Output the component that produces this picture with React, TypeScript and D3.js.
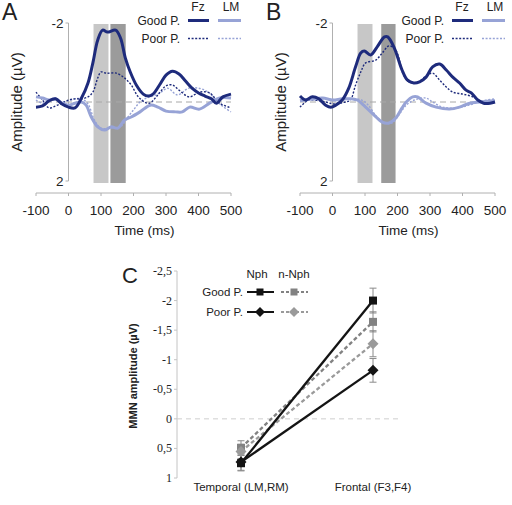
import React from "react";
import * as d3 from "d3";

// ---------- Panel A / B data: [time ms, amplitude µV] ----------
const aGoodFz: [number, number][] = [[-100,0.13],[-80,0.10],[-60,-0.03],[-40,-0.08],[-20,0.05],[0,0.13],[20,0.15],[40,-0.10],[60,-0.48],[75,-0.99],[90,-1.57],[105,-1.82],[120,-1.77],[145,-1.82],[160,-1.62],[175,-1.11],[190,-0.76],[210,-0.41],[230,-0.20],[245,-0.15],[260,-0.20],[280,-0.43],[300,-0.68],[320,-0.78],[340,-0.71],[360,-0.53],[380,-0.35],[400,-0.23],[420,-0.15],[440,-0.08],[455,0.03],[475,-0.13],[500,-0.20]];
const aPoorFz: [number, number][] = [[-100,-0.25],[-80,-0.05],[-60,0.15],[-40,0.10],[-20,0.03],[0,-0.05],[20,-0.08],[40,-0.08],[60,-0.13],[75,-0.25],[90,-0.61],[100,-0.76],[116,-0.73],[147,-0.73],[172,-0.61],[193,-0.43],[213,-0.15],[234,0],[250,0.03],[275,-0.18],[300,-0.41],[320,-0.43],[340,-0.30],[372,-0.13],[403,-0.25],[434,-0.23],[465,0.03],[500,0.15]];
const aGoodLM: [number, number][] = [[-100,-0.13],[-80,-0.10],[-60,-0.05],[-40,-0.08],[-20,0.03],[0,0.08],[20,0.03],[40,0],[54,0.08],[70,0.38],[90,0.63],[111,0.71],[131,0.63],[152,0.66],[172,0.46],[193,0.38],[220,0.25],[252,0.08],[275,0.13],[300,0.23],[330,0.25],[350,0.25],[373,0.13],[403,0.18],[434,0.03],[465,-0.10],[500,-0.10]];
const aPoorLM: [number, number][] = [[-100,-0.05],[-80,0.03],[-60,-0.03],[-40,-0.05],[-20,0],[0,-0.03],[20,-0.08],[40,-0.08],[60,0.05],[80,0.46],[100,0.66],[130,0.66],[160,0.63],[180,0.41],[200,0.20],[220,0],[240,-0.10],[260,-0.15],[285,-0.25],[305,-0.35],[335,-0.18],[370,-0.35],[400,-0.35],[430,-0.25],[465,0.05],[500,0.25]];

const bGoodFz: [number, number][] = [[-100,-0.15],[-83,-0.05],[-62,-0.13],[-42,-0.08],[-21,0.08],[-5,0.13],[10,0.08],[30,-0.05],[50,-0.35],[71,-0.89],[87,-1.24],[98,-1.29],[117,-1.19],[137,-1.39],[160,-1.65],[170,-1.65],[190,-1.37],[214,-0.81],[230,-0.56],[250,-0.48],[268,-0.51],[288,-0.63],[308,-0.89],[330,-0.96],[350,-0.81],[370,-0.63],[391,-0.48],[411,-0.30],[427,-0.23],[447,-0.05],[465,0.03],[485,0.03],[500,0]];
const bPoorFz: [number, number][] = [[-100,0.13],[-73,-0.05],[-40,-0.03],[-20,0],[0,0.05],[20,0.03],[40,0],[55,-0.05],[71,-0.43],[87,-0.76],[102,-0.99],[133,-1.06],[153,-1.24],[174,-1.42],[194,-1.32],[219,-0.68],[235,-0.51],[250,-0.48],[268,-0.53],[288,-0.66],[308,-0.73],[329,-0.56],[350,-0.38],[370,-0.25],[401,-0.20],[432,-0.13],[462,0],[500,-0.05]];
const bGoodLM: [number, number][] = [[-100,-0.03],[-60,-0.08],[-30,-0.10],[0,-0.05],[30,-0.08],[60,-0.08],[76,-0.05],[102,0.13],[128,0.33],[153,0.51],[174,0.53],[194,0.41],[214,0.15],[227,0],[247,-0.13],[262,-0.13],[288,0.03],[319,0.13],[360,0.18],[391,0.13],[422,0.03],[452,0],[500,-0.03]];
const bPoorLM: [number, number][] = [[-100,-0.05],[-60,-0.05],[-20,-0.08],[20,-0.05],[60,-0.08],[90,-0.05],[110,0.08],[137,0.38],[164,0.53],[184,0.53],[204,0.33],[227,0.08],[252,-0.05],[288,-0.10],[308,0],[339,0.13],[380,0.15],[420,0.08],[462,-0.03],[500,-0.08]];

const aWindows: [number, number][] = [[77, 123], [129, 176]];
const bWindows: [number, number][] = [[77, 123], [150, 194]];
const timeTicks = [-100, 0, 100, 200, 300, 400, 500];
const ampTicks = [-2, 2];

// ---------- Panel C data ----------
const regions = ["Temporal (LM,RM)", "Frontal (F3,F4)"];
const goodNph = [0.75, -2.0];
const goodNphErr = [0.13, 0.21];
const poorNph = [0.73, -0.82];
const poorNphErr = [0.14, 0.2];
const goodNNph = [0.49, -1.64];
const goodNNphErr = [0.12, 0.17];
const poorNNph = [0.55, -1.27];
const poorNNphErr = [0.12, 0.22];
const mmnTicks = [-2.5, -2, -1.5, -1, -0.5, 0, 0.5, 1];
const mmnTickLabels = ["-2,5", "-2", "-1,5", "-1", "-0,5", "0", "0,5", "1"];

const DARK = "#1e2b7c";
const LIGHT = "#97a3d6";
const SANS = "'Liberation Sans', Arial, sans-serif";
const SERIF = "'Liberation Serif', 'Times New Roman', serif";
const TXT = "#222";

function ErpPanel({ x0, letter, series, windows }: { x0: number; letter: string; series: [number, number][][]; windows: [number, number][] }) {
  const x = d3.scaleLinear().domain([-100, 500]).range([x0, x0 + 195]);
  const y = d3.scaleLinear().domain([-2, 2]).range([23, 181]);
  const line = d3.line<[number, number]>().x(d => x(d[0])).y(d => y(d[1])).curve(d3.curveCatmullRom.alpha(0.5));
  const [goodFz, poorFz, goodLM, poorLM] = series;
  const ax = x(0);
  const lx = x0 + 152; // legend line start
  return (
    <g>
      <text x={x0 - 34} y={20} fontFamily={SANS} fontSize={23} fill={TXT}>{letter}</text>
      {windows.map((w, i) => (
        <rect key={i} x={x(w[0])} y={24} width={x(w[1]) - x(w[0])} height={159} fill={i === 0 ? "#c7c7c7" : "#9b9b9b"} />
      ))}
      <line x1={ax} x2={ax} y1={y(-2)} y2={y(2)} stroke="#b0b0b0" strokeWidth={1} />
      {ampTicks.map(t => (
        <g key={t}>
          <line x1={ax - 3} x2={ax} y1={y(t)} y2={y(t)} stroke="#b0b0b0" />
          <text x={ax - 5} y={y(t) + 5} textAnchor="end" fontFamily={SANS} fontSize={13.5} fill={TXT}>{t}</text>
        </g>
      ))}
      <line x1={x(-100)} x2={x(500)} y1={y(0)} y2={y(0)} stroke="#a8a8a8" strokeDasharray="6,4" strokeWidth={1} />
      <path d={line(poorLM) || ""} fill="none" stroke={LIGHT} strokeWidth={1.4} strokeDasharray="2,1.6" />
      <path d={line(poorFz) || ""} fill="none" stroke={DARK} strokeWidth={1.4} strokeDasharray="2,1.6" />
      <path d={line(goodLM) || ""} fill="none" stroke={LIGHT} strokeWidth={3} />
      <path d={line(goodFz) || ""} fill="none" stroke={DARK} strokeWidth={3} />
      <line x1={x(-100)} x2={x(500)} y1={193} y2={193} stroke="#b0b0b0" />
      {timeTicks.map(t => (
        <g key={t}>
          <line x1={x(t)} x2={x(t)} y1={193} y2={196} stroke="#b0b0b0" />
          <text x={x(t)} y={215} textAnchor="middle" fontFamily={SANS} fontSize={13.5} fill={TXT}>{t}</text>
        </g>
      ))}
      <text x={x(0) + 76} y={235} textAnchor="middle" fontFamily={SANS} fontSize={13.5} fill={TXT}>Time (ms)</text>
      <text transform={`translate(${x0 - 14},102) rotate(-90)`} textAnchor="middle" fontFamily={SANS} fontSize={15} fill={TXT}>Amplitude (µV)</text>
      {/* legend */}
      <text x={lx + 10} y={10.5} textAnchor="middle" fontFamily={SANS} fontSize={12} fill={TXT}>Fz</text>
      <text x={lx + 43} y={10.5} textAnchor="middle" fontFamily={SANS} fontSize={12} fill={TXT}>LM</text>
      <text x={lx - 8} y={25} textAnchor="end" fontFamily={SANS} fontSize={12} fill={TXT}>Good P.</text>
      <text x={lx - 8} y={43} textAnchor="end" fontFamily={SANS} fontSize={12} fill={TXT}>Poor P.</text>
      <line x1={lx} x2={lx + 21} y1={20.5} y2={20.5} stroke={DARK} strokeWidth={3} />
      <line x1={lx + 30} x2={lx + 53} y1={20.5} y2={20.5} stroke={LIGHT} strokeWidth={3} />
      <line x1={lx} x2={lx + 21} y1={38.5} y2={38.5} stroke={DARK} strokeWidth={1.4} strokeDasharray="2,1.6" />
      <line x1={lx + 30} x2={lx + 53} y1={38.5} y2={38.5} stroke={LIGHT} strokeWidth={1.4} strokeDasharray="2,1.6" />
    </g>
  );
}

function Square({ cx, cy, fill, s = 8 }: { cx: number; cy: number; fill: string; s?: number }) {
  return <rect x={cx - s / 2} y={cy - s / 2} width={s} height={s} fill={fill} />;
}
function Diamond({ cx, cy, fill, s = 5.5 }: { cx: number; cy: number; fill: string; s?: number }) {
  return <path d={`M${cx},${cy - s}L${cx + s},${cy}L${cx},${cy + s}L${cx - s},${cy}Z`} fill={fill} />;
}

function PanelC() {
  const x = d3.scalePoint<string>().domain(regions).range([241, 373]);
  const y = d3.scaleLinear().domain([-2.5, 1]).range([271, 478]);
  const line = d3.line<number>().x((_, i) => x(regions[i]) as number).y(d => y(d));
  const BLACK = "#141414";
  const GRAY = "#828282";
  const GRAY2 = "#9a9a9a";
  const series = [
    { vals: goodNNph, err: goodNNphErr, color: GRAY, dashed: true, shape: "sq" },
    { vals: poorNNph, err: poorNNphErr, color: GRAY2, dashed: true, shape: "di" },
    { vals: goodNph, err: goodNphErr, color: BLACK, dashed: false, shape: "sq" },
    { vals: poorNph, err: poorNphErr, color: BLACK, dashed: false, shape: "di" },
  ];
  return (
    <g>
      <text x={122} y={283} fontFamily={SANS} fontSize={22} fill={TXT}>C</text>
      <line x1={177} x2={177} y1={y(-2.5)} y2={y(1)} stroke="#c4c4c4" />
      {mmnTicks.map((t, i) => (
        <g key={t}>
          <line x1={174} x2={177} y1={y(t)} y2={y(t)} stroke="#c4c4c4" />
          <text x={172} y={y(t) + 4} textAnchor="end" fontFamily={SERIF} fontSize={12} fill={TXT}>{mmnTickLabels[i]}</text>
        </g>
      ))}
      <line x1={177} x2={400} y1={y(0)} y2={y(0)} stroke="#cfcfcf" strokeDasharray="5,4" />
      <text transform={`translate(137,${376}) rotate(-90)`} textAnchor="middle" fontFamily={SANS} fontSize={11} fontWeight="bold" fill={TXT}>MMN amplitude (µV)</text>
      {series.map((s, k) => (
        <g key={k}>
          {s.vals.map((v, i) => {
            const cx = x(regions[i]) as number;
            return (
              <g key={i} stroke="#8a8a8a" strokeWidth={1}>
                <line x1={cx} x2={cx} y1={y(v - s.err[i])} y2={y(v + s.err[i])} />
                <line x1={cx - 3.5} x2={cx + 3.5} y1={y(v - s.err[i])} y2={y(v - s.err[i])} />
                <line x1={cx - 3.5} x2={cx + 3.5} y1={y(v + s.err[i])} y2={y(v + s.err[i])} />
              </g>
            );
          })}
        </g>
      ))}
      {series.map((s, k) => (
        <path key={k} d={line(s.vals) || ""} fill="none" stroke={s.color} strokeWidth={2.3} strokeDasharray={s.dashed ? "4,2.5" : undefined} />
      ))}
      {series.map((s, k) => (
        <g key={k}>
          {s.vals.map((v, i) => {
            const cx = x(regions[i]) as number;
            return s.shape === "sq" ? <Square key={i} cx={cx} cy={y(v)} fill={s.color} /> : <Diamond key={i} cx={cx} cy={y(v)} fill={s.color} />;
          })}
        </g>
      ))}
      {regions.map(r => (
        <text key={r} x={x(r) as number} y={491} textAnchor="middle" fontFamily={SANS} fontSize={11.5} fill={TXT}>{r}</text>
      ))}
      {/* legend */}
      <text x={257} y={278} textAnchor="middle" fontFamily={SANS} fontSize={11.5} fill={TXT}>Nph</text>
      <text x={294} y={278} textAnchor="middle" fontFamily={SANS} fontSize={11.5} fill={TXT}>n-Nph</text>
      <text x={243} y={296} textAnchor="end" fontFamily={SANS} fontSize={11.5} fill={TXT}>Good P.</text>
      <text x={243} y={316} textAnchor="end" fontFamily={SANS} fontSize={11.5} fill={TXT}>Poor P.</text>
      <line x1={247} x2={274} y1={292} y2={292} stroke={BLACK} strokeWidth={2} />
      <Square cx={260} cy={292} fill={BLACK} s={7} />
      <line x1={281} x2={308} y1={292} y2={292} stroke={GRAY} strokeWidth={2} strokeDasharray="3,2" />
      <Square cx={294} cy={292} fill={GRAY} s={7} />
      <line x1={247} x2={274} y1={312} y2={312} stroke={BLACK} strokeWidth={2} />
      <Diamond cx={260} cy={312} fill={BLACK} s={5} />
      <line x1={281} x2={308} y1={312} y2={312} stroke={GRAY2} strokeWidth={2} strokeDasharray="3,2" />
      <Diamond cx={294} cy={312} fill={GRAY2} s={5} />
    </g>
  );
}

export default function App() {
  return (
    <svg width={512} height={505} style={{ position: "absolute", left: 0, top: 0, background: "#fff" }}>
      <rect width={512} height={505} fill="#fff" />
      <ErpPanel x0={36} letter="A" series={[aGoodFz, aPoorFz, aGoodLM, aPoorLM]} windows={aWindows} />
      <ErpPanel x0={300} letter="B" series={[bGoodFz, bPoorFz, bGoodLM, bPoorLM]} windows={bWindows} />
      <PanelC />
    </svg>
  );
}
